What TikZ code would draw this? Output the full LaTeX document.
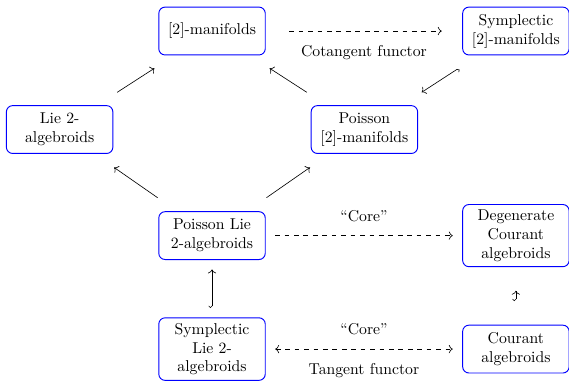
\documentclass[tikz,border=0pt]{standalone}
\usetikzlibrary{arrows.meta}

\begin{document}
\begin{tikzpicture}[
    box/.style={draw=blue,semithick,rounded corners=4pt,minimum width=2.38cm,minimum height=1.07cm,align=center},
    arr/.style={->,shorten <=15pt,shorten >=15pt},
    darr/.style={->,dashed},
    hk/.style={{Hooks[right]}->}
  ]
    \useasboundingbox (0,0) rectangle (12.72,8.52);
    \node[box] (m2) at (4.74,7.826) {[2]-manifolds};
    \node[box] (sym2) at (11.533,7.826) {Symplectic\\{}[2]-manifolds};
    \node[box] (lie2) at (1.333,5.624) {Lie 2-\\algebroids};
    \node[box] (pois2) at (8.146,5.624) {Poisson\\{}[2]-manifolds};
    \node[box] (plie) at (4.74,3.253) {Poisson Lie\\2-algebroids};
    \node[box] (dcour) at (11.533,3.253) {Degenerate\\Courant\\algebroids};
    \node[box] (slie) at (4.74,0.716) {Symplectic\\Lie 2-\\algebroids};
    \node[box] (cour) at (11.533,0.716) {Courant\\algebroids};
    \draw[arr] (lie2) -- (m2);
    \draw[arr] (pois2) -- (m2);
    \draw[arr,hk] (sym2) -- (pois2);
    \draw[arr] (plie) -- (lie2);
    \draw[arr] (plie) -- (pois2);
    \draw[darr,shorten <=15pt,shorten >=13pt] (m2) -- node[below=5.5pt] {Cotangent functor} (sym2);
    \draw[darr,shorten <=6pt,shorten >=6pt] (plie) -- node[above=5pt] {``Core''} (dcour);
    \draw[hk,shorten <=6pt,shorten >=6pt] (slie) -- (plie);
    \draw[hk,shorten <=15pt,shorten >=15pt] (cour) -- (dcour);
    \draw[<->,dashed,shorten <=6pt,shorten >=6pt] (slie) -- node[above=5.5pt] {``Core''} node[below=5.5pt] {Tangent functor} (cour);
  \end{tikzpicture}
\end{document}
